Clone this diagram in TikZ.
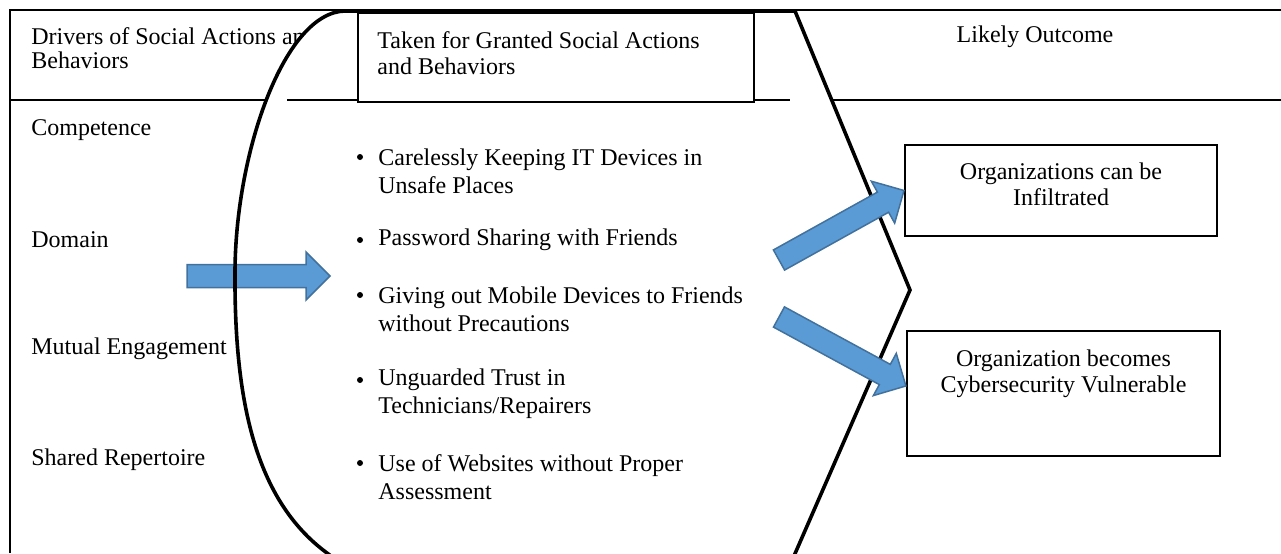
\documentclass[tikz,border=0pt]{standalone}
\usepackage{fontspec}
\setmainfont{Liberation Serif}
\usetikzlibrary{calc,positioning}

\definecolor{arrowblue}{RGB}{91,155,213}
\definecolor{arrowedge}{RGB}{65,113,156}

\tikzset{
  rule/.style={line width=1pt},
  cell/.style={anchor=west, inner sep=0pt, align=left, font=\fontsize{12}{12}\selectfont},
  item/.style={anchor=west, inner sep=0pt, align=left, font=\fontsize{12}{14}\selectfont},
  dot/.style={circle, fill, inner sep=0pt, minimum size=3pt},
  outbox/.style={draw, line width=1pt, fill=white, inner sep=0pt, anchor=north west},
  outtext/.style={inner sep=0pt, align=center, font=\fontsize{12}{13}\selectfont},
  fatarrow/.style={fill=arrowblue, draw=arrowedge, line width=0.75pt, line join=miter},
}

% block arrow from #1 to #2
\newcommand\blockarrow[2]{%
  \draw[fatarrow] let \p1=($(#2)-(#1)$), \n1={atan2(\y1,\x1)}, \n2={veclen(\x1,\y1)} in
    [shift={(#1)}, rotate=\n1]
    (0pt,-5.75pt) -- (\n2-12pt,-5.75pt) -- (\n2-12pt,-12pt) -- (\n2,0pt)
    -- (\n2-12pt,12pt) -- (\n2-12pt,5.75pt) -- (0pt,5.75pt) -- cycle;}

\begin{document}
\begin{tikzpicture}[x=0.5pt, y=-0.5pt]
  \useasboundingbox (0,0) rectangle (1281,553);

  % table
  \draw[rule] (10,553) -- (10,10) -- (1281,10);
  \draw[rule] (10,100) -- (1281,100);
  \node[cell] (drv) at (31,48) {Drivers of Social Actions and\\Behaviors};
  \node[cell] (comp) at (31,130) {Competence};
  \node[cell] (dom) at (31,240) {Domain};
  \node[cell] (mut) at (31,349) {Mutual Engagement};
  \node[cell] (rep) at (31,460) {Shared Repertoire};
  \node[cell, anchor=center] (lik) at (1035,37) {Likely Outcome};

  % the bubble
  \path[save path=\bubble] (910,290) -- (795,11) -- (345,11)
    .. controls (285,12) and (236,150) .. (235,270)
    .. controls (234,400) and (255,500) .. (327,553)
    -- (352,572) -- (787,572) -- cycle;
  \fill[white, use path=\bubble];

  \coordinate (a1s) at (187,276);
  \coordinate (a1e) at (330,276);
  \blockarrow{a1s}{a1e}

  \draw[line width=1.8pt, use path=\bubble];

  \draw[rule] (287,100) -- (790,100);
  \node[outbox, minimum width=198pt, minimum height=44.5pt] (tkn) at (357,12) {};
  \node[cell, font=\fontsize{12}{13}\selectfont] (tkntxt) at (377,53)
    {Taken for Granted Social Actions\\and Behaviors};

  % list
  \node[dot] (b1) at (360,157) {};
  \node[dot] (b2) at (360,240) {};
  \node[dot] (b3) at (360,295) {};
  \node[dot] (b4) at (360,380) {};
  \node[dot] (b5) at (360,463) {};
  \node[item] (t1) at (378,171) {Carelessly Keeping IT Devices in\\Unsafe Places};
  \node[item] (t2) at (378,240) {Password Sharing with Friends};
  \node[item] (t3) at (378,309) {Giving out Mobile Devices to Friends\\without Precautions};
  \node[item] (t4) at (378,394) {Unguarded Trust in\\Technicians/Repairers};
  \node[item] (t5) at (378,477) {Use of Websites without Proper\\Assessment};

  % outcomes
  \node[outbox, minimum width=156pt, minimum height=45.5pt] (o1) at (904,144) {};
  \node[outtext, below=9pt of o1.north] (o1t) {Organizations can be\\Infiltrated};
  \node[outbox, minimum width=156.5pt, minimum height=62.5pt] (o2) at (906,330) {};
  \node[outtext, below=9.5pt of o2.north] (o2t) {Organization becomes\\Cybersecurity Vulnerable};

  \coordinate (a2s) at (779,260);
  \coordinate (a3s) at (779,317);
  \coordinate (a3e) at ([yshift=3.75pt]o2.west);
  \blockarrow{a2s}{o1.west}
  \blockarrow{a3s}{a3e}
\end{tikzpicture}
\end{document}
